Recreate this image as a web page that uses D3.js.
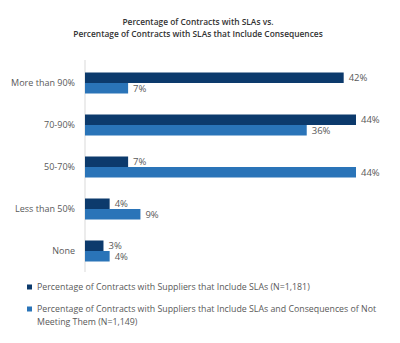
<!DOCTYPE html>
<html lang="en">
<head>
<meta charset="UTF-8">
<script src="https://d3js.org/d3.v7.min.js"></script>
<style>
  body { margin: 0; background: #fff; }
  text { font-family: "Open Sans", sans-serif; }
</style>
</head>
<body>
<div id="chart"></div>
<script>
// data
var categories = ["More than 90%", "70-90%", "50-70%", "Less than 50%", "None"];
var withSLAs = [42, 44, 7, 4, 3];
var withConsequences = [7, 36, 44, 9, 4];
var seriesNames = [
  "Percentage of Contracts with Suppliers that Include SLAs (N=1,181)",
  "Percentage of Contracts with Suppliers that Include SLAs and Consequences of Not Meeting Them (N=1,149)"
];
var colors = ["#0c3a6c", "#2a74b8"];
var titleLines = ["Percentage of Contracts with SLAs vs.", "Percentage of Contracts with SLAs that Include Consequences"];

var width = 400, height = 343;
var svg = d3.select("#chart").append("svg")
  .attr("width", width)
  .attr("height", height);

// title
svg.selectAll(".title")
  .data(titleLines)
  .enter().append("text")
  .attr("class", "title")
  .attr("x", 198)
  .attr("y", function(d, i) { return 25 + i * 12; })
  .attr("text-anchor", "middle")
  .style("font-size", "8.4px")
  .style("font-weight", "600")
  .style("fill", "#333")
  .text(function(d) { return d; });

var x = d3.scaleLinear().domain([0, 44]).range([85, 356]);
var y = d3.scaleBand().domain(categories).range([62, 272]).paddingInner(0.5).paddingOuter(0.25);
var sub = d3.scaleBand().domain([0, 1]).range([0, y.bandwidth()]);

// axis line
svg.append("line")
  .attr("x1", x(0)).attr("x2", x(0))
  .attr("y1", 60).attr("y2", 272)
  .style("stroke", "#d9d9d9")
  .style("stroke-width", 1);

// category labels
svg.selectAll(".cat")
  .data(categories)
  .enter().append("text")
  .attr("class", "cat")
  .attr("x", 75)
  .attr("y", function(d) { return y(d) + y.bandwidth() / 2; })
  .attr("dy", "0.35em")
  .attr("text-anchor", "end")
  .style("font-size", "9px")
  .style("fill", "#595959")
  .text(function(d) { return d; });

var series = [withSLAs, withConsequences];
series.forEach(function(vals, s) {
  var g = svg.append("g");
  g.selectAll("rect")
    .data(vals)
    .enter().append("rect")
    .attr("x", x(0))
    .attr("y", function(d, i) { return y(categories[i]) + sub(s); })
    .attr("width", function(d) { return x(d) - x(0); })
    .attr("height", sub.bandwidth())
    .style("fill", colors[s]);
  g.selectAll("text")
    .data(vals)
    .enter().append("text")
    .attr("x", function(d) { return x(d) + 5; })
    .attr("y", function(d, i) { return y(categories[i]) + sub(s) + sub.bandwidth() / 2; })
    .attr("dy", "0.35em")
    .style("font-size", "9.5px")
    .style("fill", "#595959")
    .text(function(d) { return d + "%"; });
});

// legend
var legendY = [287, 309];
var legendLines = [
  [seriesNames[0]],
  ["Percentage of Contracts with Suppliers that Include SLAs and Consequences of Not", "Meeting Them (N=1,149)"]
];
legendLines.forEach(function(lines, s) {
  svg.append("rect")
    .attr("x", 27)
    .attr("y", legendY[s] - 2.5)
    .attr("width", 5)
    .attr("height", 5)
    .style("fill", colors[s]);
  svg.selectAll(".leg" + s)
    .data(lines)
    .enter().append("text")
    .attr("class", "leg" + s)
    .attr("x", 37)
    .attr("y", function(d, i) { return legendY[s] + i * 13; })
    .attr("dy", "0.35em")
    .style("font-size", "8.8px")
    .style("fill", "#595959")
    .text(function(d) { return d; });
});
</script>
</body>
</html>
